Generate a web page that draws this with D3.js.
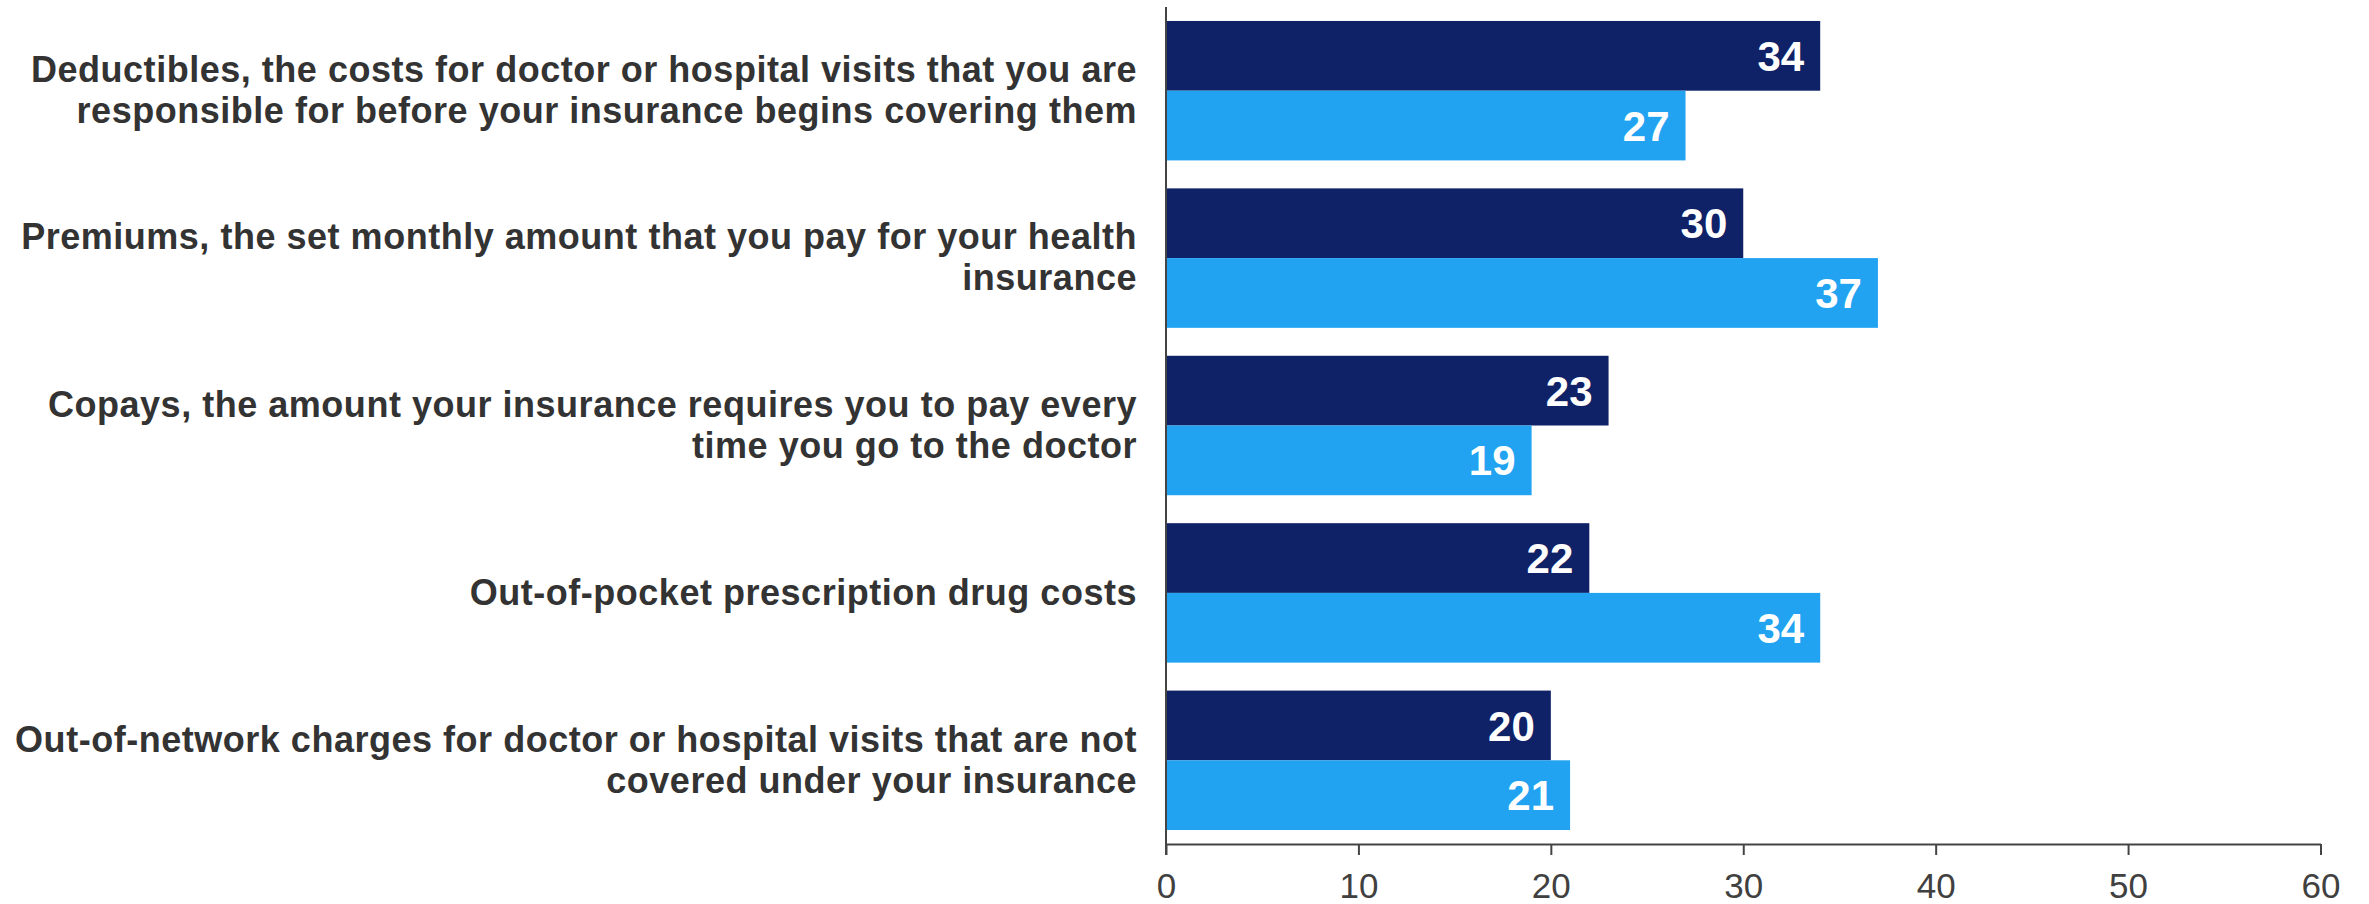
<!DOCTYPE html>
<html>
<head>
<meta charset="utf-8">
<script src="https://cdn.jsdelivr.net/npm/d3@7"></script>
<style>
  html, body { margin: 0; padding: 0; background: #ffffff; }
  svg { display: block; }
</style>
</head>
<body>
<svg id="chart" width="2369" height="904"></svg>
<script>
// ---- Data ----
const categories = [
  "Deductibles, the costs for doctor or hospital visits that you are responsible for before your insurance begins covering them",
  "Premiums, the set monthly amount that you pay for your health insurance",
  "Copays, the amount your insurance requires you to pay every time you go to the doctor",
  "Out-of-pocket prescription drug costs",
  "Out-of-network charges for doctor or hospital visits that are not covered under your insurance"
];
const categoryLines = [
  ["Deductibles, the costs for doctor or hospital visits that you are", "responsible for before your insurance begins covering them"],
  ["Premiums, the set monthly amount that you pay for your health", "insurance"],
  ["Copays, the amount your insurance requires you to pay every", "time you go to the doctor"],
  ["Out-of-pocket prescription drug costs"],
  ["Out-of-network charges for doctor or hospital visits that are not", "covered under your insurance"]
];
const seriesNames = ["Series 1", "Series 2"];
const series1Values = [34, 30, 23, 22, 20];
const series2Values = [27, 37, 19, 34, 21];
const xTicks = [0, 10, 20, 30, 40, 50, 60];

// ---- Layout ----
const svg = d3.select("#chart");
const plotLeft = 1166, plotRight = 2320.5, plotTop = 7, plotBottom = 844;
const colors = ["#0f2167", "#21a3f2"];
const textColor = "#333333";
const axisColor = "#444444";
const FONT = "'Liberation Sans', Arial, Helvetica, sans-serif";

const x = d3.scaleLinear().domain([0, 60]).range([plotLeft, plotRight]);
const y0 = d3.scaleBand().domain(categories).range([plotTop, plotBottom])
  .paddingInner(0.167).paddingOuter(0.0835);
const y1 = d3.scaleBand().domain(seriesNames).range([0, y0.bandwidth()]);

const data = categories.map((c, i) => ({
  cat: c,
  lines: categoryLines[i],
  vals: [series1Values[i], series2Values[i]]
}));

// Bars
const groups = svg.append("g").selectAll("g").data(data).join("g")
  .attr("transform", d => `translate(0,${y0(d.cat)})`);

groups.selectAll("rect").data(d => d.vals.map((v, k) => ({v, k})))
  .join("rect")
  .attr("x", x(0))
  .attr("y", d => y1(seriesNames[d.k]))
  .attr("width", d => x(d.v) - x(0))
  .attr("height", y1.bandwidth())
  .attr("fill", d => colors[d.k]);

// Value labels
groups.selectAll("text.val").data(d => d.vals.map((v, k) => ({v, k})))
  .join("text")
  .attr("class", "val")
  .attr("x", d => x(d.v) - 16)
  .attr("y", d => y1(seriesNames[d.k]) + y1.bandwidth() / 2)
  .attr("dy", "0.36em")
  .attr("text-anchor", "end")
  .attr("fill", "#ffffff")
  .attr("font-family", FONT)
  .attr("font-weight", "bold")
  .attr("font-size", "42px")
  .text(d => d.v);

// Category labels
const lineH = 41;
groups.each(function(d) {
  const g = d3.select(this);
  const cy = y0.bandwidth() / 2;
  const n = d.lines.length;
  const t = g.append("text")
    .attr("text-anchor", "end")
    .attr("fill", textColor)
    .attr("font-family", FONT)
    .attr("font-weight", "bold")
    .attr("font-size", "36px")
    .attr("letter-spacing", "0.52px");
  d.lines.forEach((ln, i) => {
    t.append("tspan")
      .attr("x", 1137)
      .attr("y", cy + (i - (n - 1) / 2) * lineH)
      .attr("dy", "0.33em")
      .text(ln);
  });
});

// X axis
const xAxis = d3.axisBottom(x).tickValues(xTicks).tickSize(11).tickPadding(18).tickSizeOuter(0);
const gx = svg.append("g").attr("transform", `translate(0,${plotBottom})`).call(xAxis);
gx.select(".domain").attr("stroke", axisColor).attr("stroke-width", 2);
gx.selectAll(".tick line").attr("stroke", axisColor).attr("stroke-width", 2);
gx.selectAll(".tick text")
  .attr("fill", "#404040")
  .attr("font-family", FONT)
  .attr("font-size", "35px");

// Y axis line
svg.append("line")
  .attr("x1", x(0)).attr("x2", x(0))
  .attr("y1", plotTop).attr("y2", plotBottom + 11)
  .attr("stroke", axisColor).attr("stroke-width", 2);
</script>
</body>
</html>
